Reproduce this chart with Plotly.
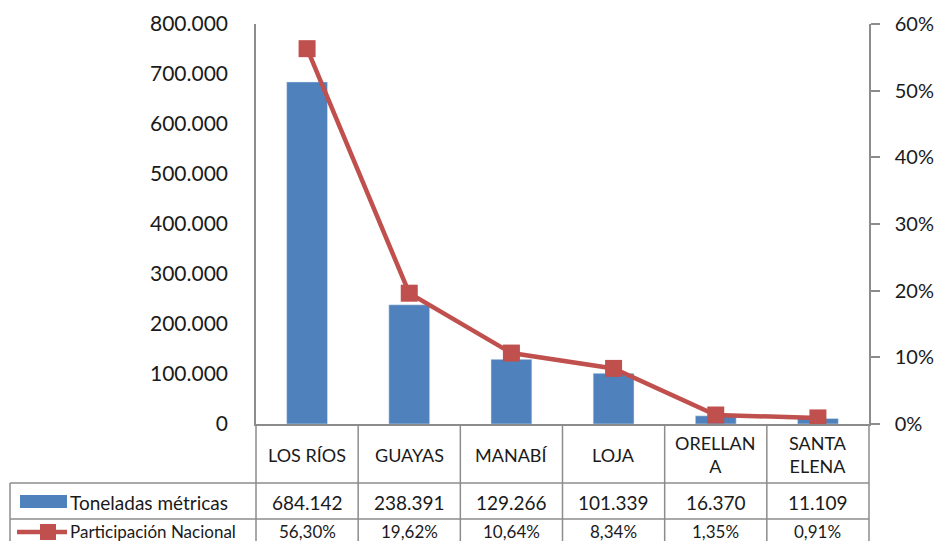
import plotly.graph_objects as go

# data
provincias = ["LOS RÍOS", "GUAYAS", "MANABÍ", "LOJA", "ORELLANA", "SANTA ELENA"]
etiquetas = ["LOS RÍOS", "GUAYAS", "MANABÍ", "LOJA", "ORELLAN<br>A", "SANTA<br>ELENA"]
toneladas = [684142, 238391, 129266, 101339, 16370, 11109]
participacion = [56.30, 19.62, 10.64, 8.34, 1.35, 0.91]

AZUL = "#4F81BD"
ROJO = "#C0504D"
GRIS = "#8c8c8c"
TXT = "#1a1a1a"
FONT = "Lato, Roboto, sans-serif"

# page body has an 8px margin, keep the figure inside the window
OFF = 8
W, H = 942 - 2 * OFF, 549 - 2 * OFF
L, T = 256 - OFF, 24 - OFF
pw, ph = 613, 400
R, B = W - L - pw, H - T - ph


def px(x):
    return (x - 256) / pw


def py(y):
    return (424 - y) / ph


fig = go.Figure()
fig.add_trace(go.Bar(x=provincias, y=toneladas, marker_color=AZUL, width=0.4,
                     name="Toneladas métricas", showlegend=False))
fig.add_trace(go.Scatter(x=provincias, y=[p / 100 for p in participacion], yaxis="y2",
                         mode="lines+markers", name="Participación Nacional",
                         line=dict(color=ROJO, width=4.5),
                         marker=dict(symbol="square", size=17, color=ROJO),
                         showlegend=False))

shapes = []
n = len(provincias)
bottom = py(560)
# column borders of the data table
for i in range(n + 1):
    shapes.append(dict(type="line", xref="paper", yref="paper", x0=i / n, x1=i / n,
                       y0=0, y1=bottom, line=dict(color=GRIS, width=1.5)))
# left border of the legend rows
shapes.append(dict(type="line", xref="paper", yref="paper", x0=px(10), x1=px(10),
                   y0=py(483), y1=bottom, line=dict(color=GRIS, width=1.5)))
for yy in (483, 519):
    shapes.append(dict(type="line", xref="paper", yref="paper", x0=px(10), x1=1,
                       y0=py(yy), y1=py(yy), line=dict(color=GRIS, width=1.5)))
# legend keys
shapes.append(dict(type="rect", xref="paper", yref="paper", x0=px(20), x1=px(67),
                   y0=py(508), y1=py(495), fillcolor=AZUL, line=dict(width=0)))
shapes.append(dict(type="line", xref="paper", yref="paper", x0=px(17), x1=px(67),
                   y0=py(532), y1=py(532), line=dict(color=ROJO, width=4.5)))
shapes.append(dict(type="rect", xref="paper", yref="paper", x0=px(40), x1=px(56),
                   y0=py(540), y1=py(524), fillcolor=ROJO, line=dict(width=0)))

annotations = []
for i in range(n):
    xc = (i + 0.5) / n
    annotations.append(dict(x=xc, y=py(455), xref="paper", yref="paper", text=etiquetas[i],
                            showarrow=False, xanchor="center", yanchor="middle",
                            font=dict(size=18, color=TXT)))
    annotations.append(dict(x=xc, y=py(502), xref="paper", yref="paper",
                            text=f"{toneladas[i]:,}".replace(",", "."),
                            showarrow=False, xanchor="center", yanchor="middle",
                            font=dict(size=19, color=TXT)))
    annotations.append(dict(x=xc, y=py(531), xref="paper", yref="paper",
                            text=f"{participacion[i]:.2f}%".replace(".", ","),
                            showarrow=False, xanchor="center", yanchor="middle",
                            font=dict(size=17, color=TXT)))
annotations.append(dict(x=px(68), y=py(502), xref="paper", yref="paper", text="Toneladas métricas",
                        showarrow=False, xanchor="left", yanchor="middle", font=dict(size=19, color=TXT)))
annotations.append(dict(x=px(68), y=py(531), xref="paper", yref="paper", text="Participación Nacional",
                        showarrow=False, xanchor="left", yanchor="middle", font=dict(size=17, color=TXT)))

fig.update_layout(
    width=W, height=H,
    margin=dict(l=L, r=R, t=T, b=B),
    paper_bgcolor="white", plot_bgcolor="white",
    separators=",.",
    font=dict(family=FONT, size=21, color=TXT),
    xaxis=dict(showticklabels=False, showline=True, linecolor=GRIS, linewidth=1.5,
               showgrid=False, ticks="", range=[-0.5, n - 0.5], automargin=False),
    yaxis=dict(range=[0, 800000], dtick=100000, tickformat=",d", showgrid=False,
               showline=True, linecolor=GRIS, linewidth=1.5, ticks="",
               ticklabelstandoff=22, zeroline=False, automargin=False),
    yaxis2=dict(range=[0, 0.6], dtick=0.1, tickformat=".0%", overlaying="y", side="right",
                showgrid=False, showline=True, linecolor=GRIS, linewidth=1.5,
                ticks="outside", ticklen=9, tickcolor=GRIS, tickwidth=1.5,
                tickfont=dict(size=20), ticklabelstandoff=11, zeroline=False,
                automargin=False),
    shapes=shapes,
    annotations=annotations,
)

fig.write_html("out.html")
